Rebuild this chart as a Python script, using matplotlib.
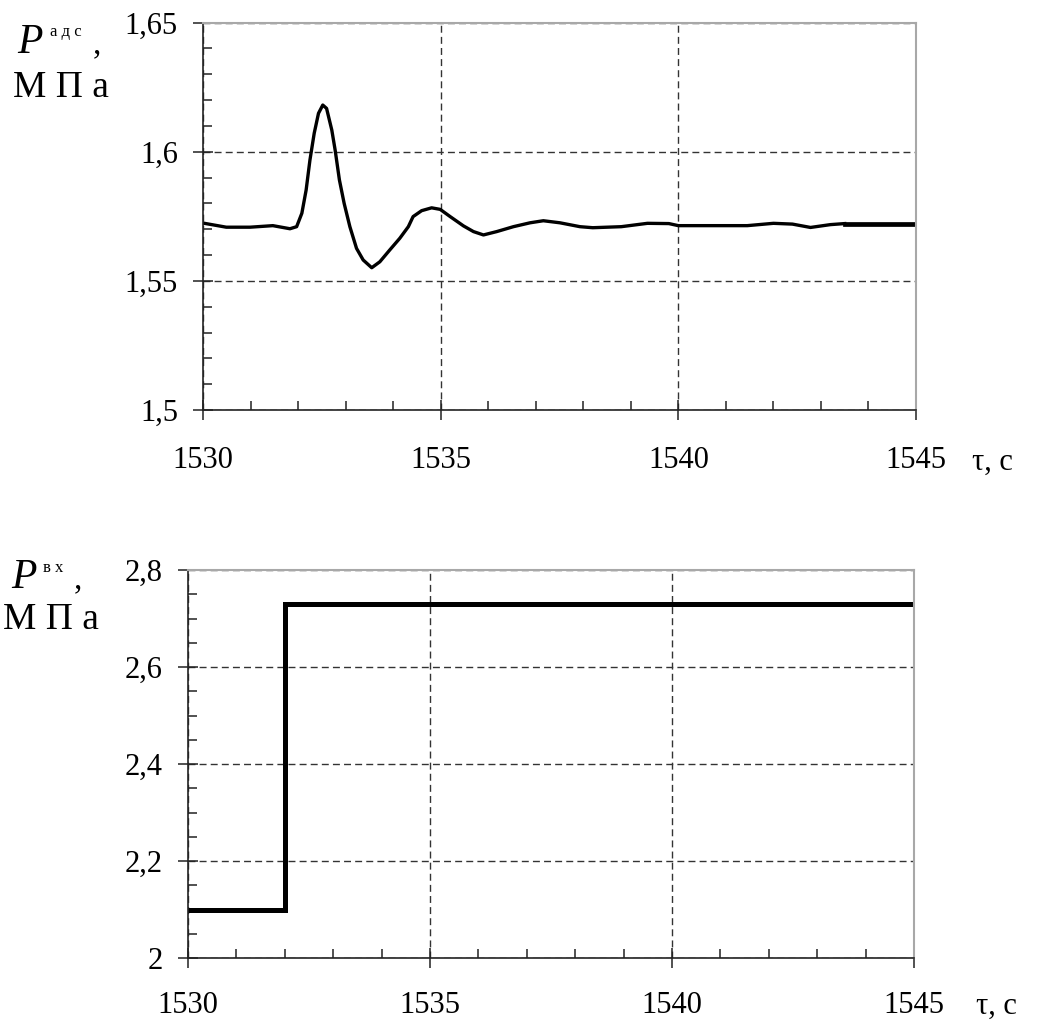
import matplotlib
matplotlib.use("Agg")
import matplotlib.pyplot as plt
from matplotlib.ticker import MultipleLocator, FuncFormatter

plt.rcParams["font.family"] = ["Liberation Serif", "DejaVu Serif"]

# top panel: adsorber pressure, MPa
t_ads = [1530.0, 1530.49, 1530.99, 1531.47, 1531.65, 1531.83, 1531.97,
         1532.08, 1532.17, 1532.25, 1532.34, 1532.43, 1532.52, 1532.60,
         1532.71, 1532.78, 1532.87, 1532.97, 1533.09, 1533.23, 1533.37,
         1533.55, 1533.72, 1533.93, 1534.14, 1534.32, 1534.42, 1534.60,
         1534.81, 1534.99, 1535.20, 1535.48, 1535.69, 1535.90, 1536.18,
         1536.53, 1536.88, 1537.16, 1537.51, 1537.93, 1538.2, 1538.8,
         1539.35, 1539.8, 1540.0, 1541.45, 1542.0, 1542.4, 1542.78,
         1543.2, 1543.5]
p_ads = [1.5724, 1.5708, 1.5708, 1.5714, 1.5708, 1.5702, 1.5710,
         1.5762, 1.5852, 1.5968, 1.6072, 1.6149, 1.6181, 1.6168,
         1.6084, 1.6007, 1.5891, 1.5800, 1.5710, 1.5626, 1.5581,
         1.5551, 1.5574, 1.5620, 1.5665, 1.5710, 1.5749, 1.5772,
         1.5783, 1.5777, 1.5749, 1.5713, 1.5691, 1.5678, 1.5691,
         1.5710, 1.5725, 1.5733, 1.5725, 1.5710, 1.5706, 1.5710,
         1.5723, 1.5722, 1.5714, 1.5714, 1.5723, 1.5720, 1.5707,
         1.5718, 1.5722]
t_ads_end = [1543.5, 1545.0]
p_ads_end = [1.5722, 1.5722]

# bottom panel: inlet pressure, MPa (step)
t_in = [1530.0, 1532.0, 1545.0]
p_in = [2.10, 2.73, 2.73]

x_range = (1530, 1545)
x_ticks = [1530, 1535, 1540, 1545]

fig = plt.figure(figsize=(10.42, 10.21), dpi=100)
ax1 = fig.add_axes([0.1948, 0.5984, 0.6843, 0.3794])
ax2 = fig.add_axes([0.1804, 0.0617, 0.6968, 0.3800])

comma = FuncFormatter(lambda v, pos: ("%g" % round(v, 4)).replace(".", ","))


def style_axes(ax, ylim, ymajor, yminor, xpad):
    ax.set_xlim(*x_range)
    ax.set_ylim(*ylim)
    ax.set_xticks(x_ticks)
    ax.xaxis.set_minor_locator(MultipleLocator(1))
    ax.yaxis.set_major_locator(MultipleLocator(ymajor))
    ax.yaxis.set_minor_locator(MultipleLocator(yminor))
    ax.yaxis.set_major_formatter(comma)
    for side in ("left", "bottom"):
        ax.spines[side].set_color("#222222")
        ax.spines[side].set_linewidth(1.2)
    for side in ("top", "right"):
        ax.spines[side].set_color("#a8a8a8")
        ax.spines[side].set_linewidth(1.5)
    ax.tick_params(which="major", direction="inout", length=14, width=1.1,
                   color="#222222", labelsize=22)
    ax.tick_params(which="minor", direction="in", length=6.5, width=1.1,
                   color="#222222")
    ax.tick_params(axis="x", which="major", pad=xpad)
    ax.tick_params(axis="y", which="major", pad=11)
    ax.grid(True, which="major", color="#333333", linewidth=1.0,
            linestyle=(0, (5, 3)))


style_axes(ax1, (1.5, 1.65), 0.05, 0.01, 19)
style_axes(ax2, (2.0, 2.8), 0.2, 0.05, 17)

ax1.plot(t_ads, p_ads, color="black", linewidth=2.4, solid_joinstyle="round")
ax1.plot(t_ads_end, p_ads_end, color="black", linewidth=3.4)
ax2.plot(t_in, p_in, color="black", linewidth=3.6, drawstyle="steps-post",
         solid_joinstyle="miter")


def fy(y):
    return 1 - y / 1021.0


def fx(x):
    return x / 1042.0


# top y label
fig.text(fx(17), fy(53), "P", fontsize=30, style="italic", va="baseline")
fig.text(fx(50), fy(36), "а д с", fontsize=12, va="baseline")
fig.text(fx(93), fy(53), ",", fontsize=24, va="baseline")
fig.text(fx(13), fy(97), "М П а", fontsize=27, va="baseline")
fig.text(fx(972), fy(470), "τ, с", fontsize=22, va="baseline")

# bottom y label
fig.text(fx(11), fy(588), "P", fontsize=30, style="italic", va="baseline")
fig.text(fx(43), fy(572), "в х", fontsize=12, va="baseline")
fig.text(fx(74), fy(588), ",", fontsize=24, va="baseline")
fig.text(fx(3), fy(629), "М П а", fontsize=27, va="baseline")
fig.text(fx(976), fy(1014), "τ, с", fontsize=22, va="baseline")

fig.savefig("out.png", dpi=100)
